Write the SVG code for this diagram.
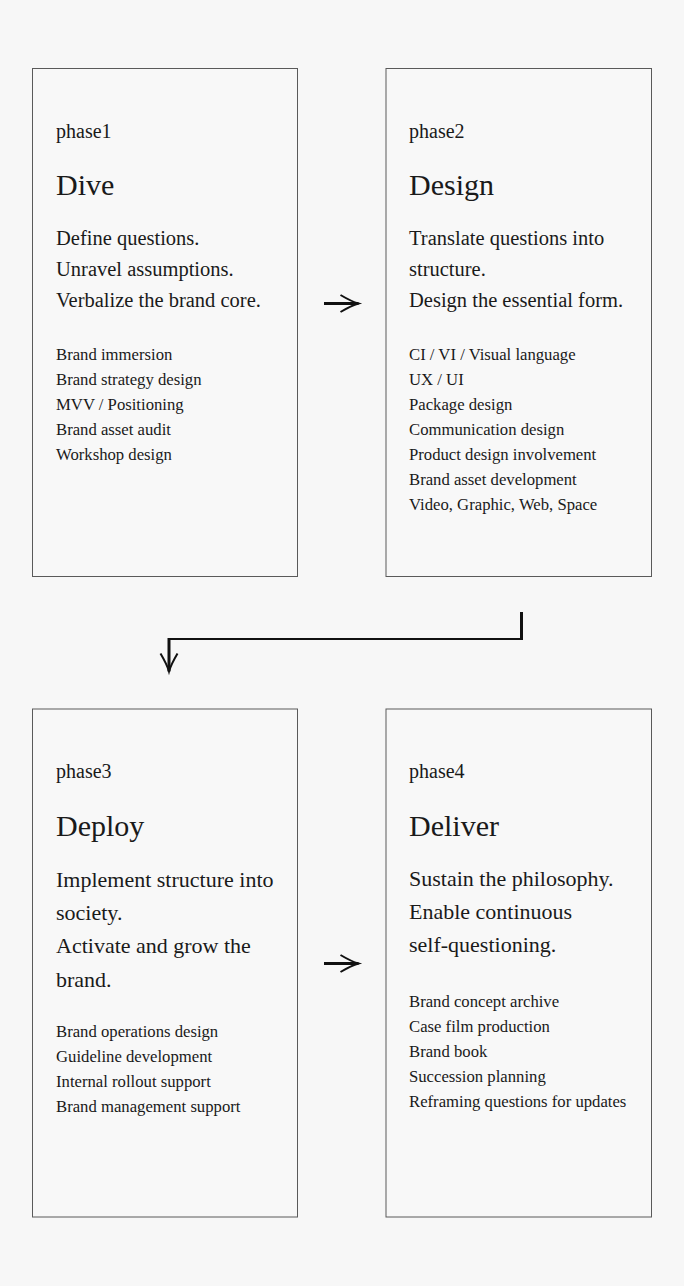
<svg xmlns="http://www.w3.org/2000/svg" width="684" height="1286" viewBox="0 0 684 1286">
<style>
.box{fill:#f8f8f8;stroke:#5a5a5a;stroke-width:1}
text{font-family:"Liberation Serif","Times New Roman",serif;fill:#1a1a1a}
.ph{font-size:20px}
.ti{font-size:30px}
.b1{font-size:20.5px}
.b2{font-size:22px}
.li{font-size:16.7px}
.con{fill:none;stroke:#111}
</style>
<defs>
<marker id="ah" markerUnits="userSpaceOnUse" orient="auto" viewBox="-20 -10 22 20" refX="0" refY="0" markerWidth="22" markerHeight="20" overflow="visible">
<path d="M-18,-8.5 Q-7,-2 0,0 Q-7,2 -18,8.5" fill="none" stroke="#111" stroke-width="2"/>
</marker>
</defs>
<rect width="684" height="1286" fill="#f7f7f7"/>
<g id="connectors">
<path class="con" d="M324,303.5 H358.5" stroke-width="3" marker-end="url(#ah)"/>
<path class="con" d="M521.5,612 V639" stroke-width="3"/>
<path class="con" d="M523,639 H168" stroke-width="2"/>
<path class="con" d="M169,638 V671.5" stroke-width="3" marker-end="url(#ah)"/>
<path class="con" d="M324,963.5 H358.5" stroke-width="3" marker-end="url(#ah)"/>
</g>
<g id="phase1">
<rect class="box" x="32.5" y="68.5" width="265" height="508"/>
<text class="ph" x="56" y="138">phase1</text>
<text class="ti" x="56" y="195">Dive</text>
<text class="b1" x="56" y="245">Define questions.</text>
<text class="b1" x="56" y="276">Unravel assumptions.</text>
<text class="b1" x="56" y="306.5">Verbalize the brand core.</text>
<text class="li" x="56" y="360">Brand immersion</text>
<text class="li" x="56" y="385">Brand strategy design</text>
<text class="li" x="56" y="410">MVV / Positioning</text>
<text class="li" x="56" y="435">Brand asset audit</text>
<text class="li" x="56" y="460">Workshop design</text>
</g>
<g id="phase2">
<rect class="box" x="386" y="68.5" width="265.5" height="508"/>
<text class="ph" x="409" y="138">phase2</text>
<text class="ti" x="409" y="195">Design</text>
<text class="b1" x="409" y="245">Translate questions into</text>
<text class="b1" x="409" y="276">structure.</text>
<text class="b1" x="409" y="306.5">Design the essential form.</text>
<text class="li" x="409" y="360">CI / VI / Visual language</text>
<text class="li" x="409" y="385">UX / UI</text>
<text class="li" x="409" y="410">Package design</text>
<text class="li" x="409" y="435">Communication design</text>
<text class="li" x="409" y="460">Product design involvement</text>
<text class="li" x="409" y="485">Brand asset development</text>
<text class="li" x="409" y="510">Video, Graphic, Web, Space</text>
</g>
<g id="phase3">
<rect class="box" x="32.5" y="709" width="265" height="508"/>
<text class="ph" x="56" y="778">phase3</text>
<text class="ti" x="56" y="836">Deploy</text>
<text class="b2" x="56" y="886.5">Implement structure into</text>
<text class="b2" x="56" y="919.5">society.</text>
<text class="b2" x="56" y="953">Activate and grow the</text>
<text class="b2" x="56" y="986.5">brand.</text>
<text class="li" x="56" y="1036.5">Brand operations design</text>
<text class="li" x="56" y="1061.5">Guideline development</text>
<text class="li" x="56" y="1086.5">Internal rollout support</text>
<text class="li" x="56" y="1111.5">Brand management support</text>
</g>
<g id="phase4">
<rect class="box" x="386" y="709" width="265.5" height="508"/>
<text class="ph" x="409" y="778">phase4</text>
<text class="ti" x="409" y="836">Deliver</text>
<text class="b2" x="409" y="885.5">Sustain the philosophy.</text>
<text class="b2" x="409" y="918.5">Enable continuous</text>
<text class="b2" x="409" y="951.5">self-questioning.</text>
<text class="li" x="409" y="1006.5">Brand concept archive</text>
<text class="li" x="409" y="1031.5">Case film production</text>
<text class="li" x="409" y="1056.5">Brand book</text>
<text class="li" x="409" y="1081.5">Succession planning</text>
<text class="li" x="409" y="1106.5">Reframing questions for updates</text>
</g>
</svg>
